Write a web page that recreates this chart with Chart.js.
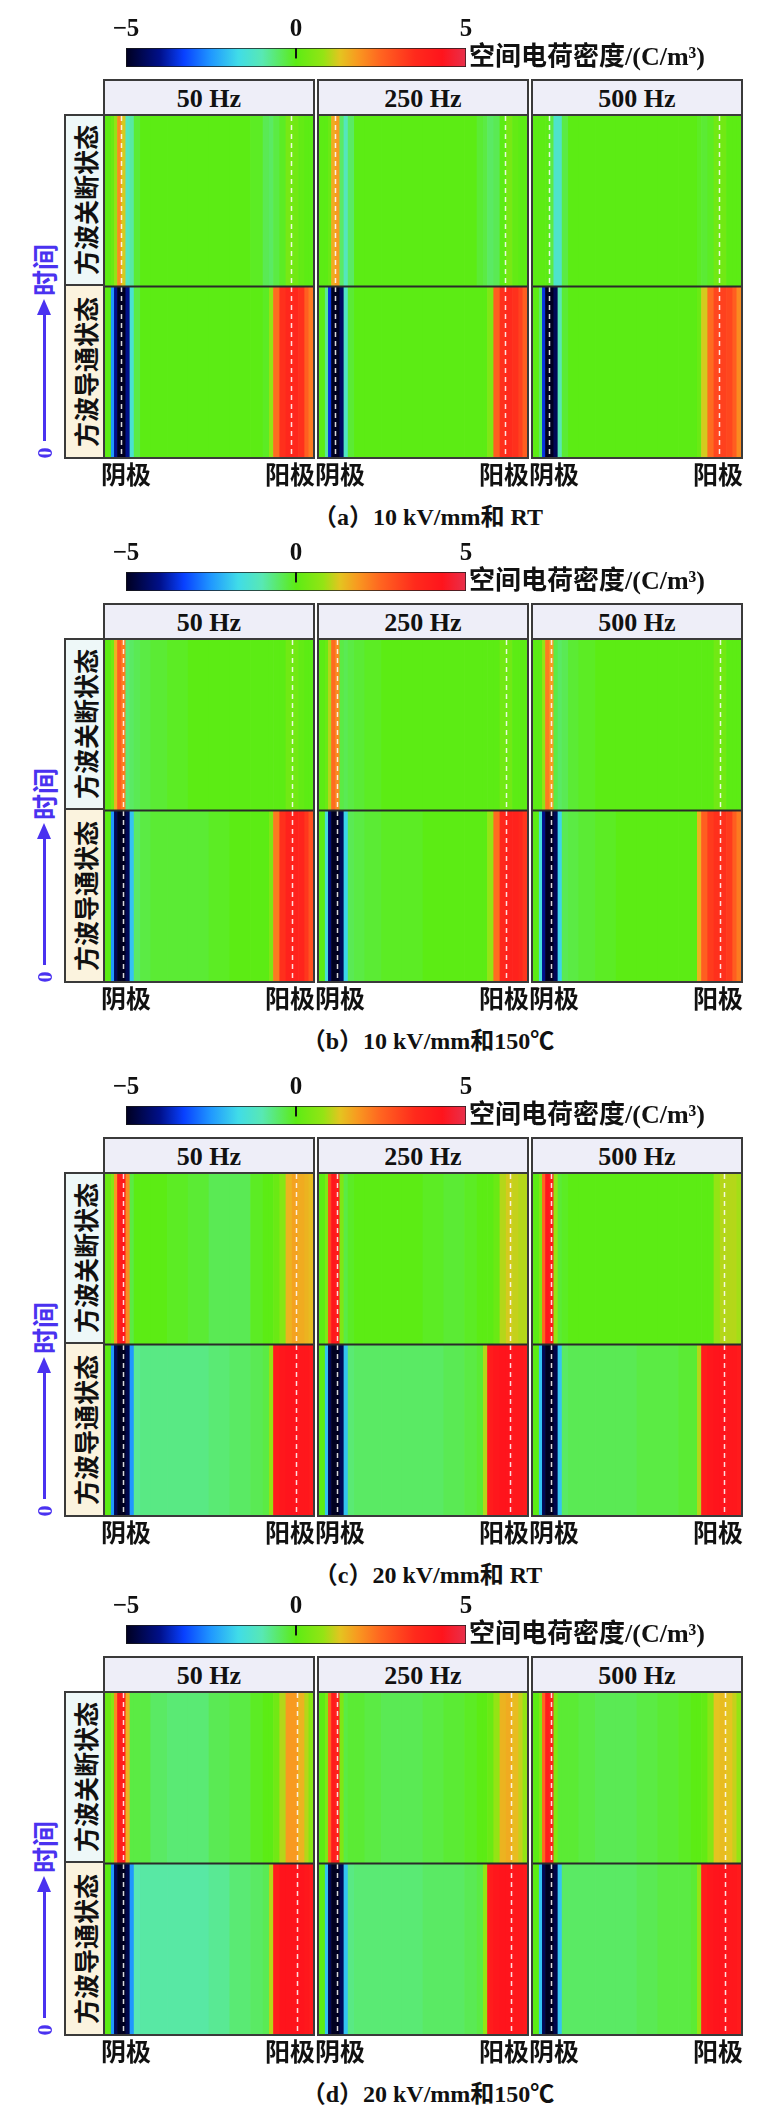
<!DOCTYPE html>
<html>
<head>
<meta charset="utf-8">
<script src="https://cdn.jsdelivr.net/npm/chart.js@4.4.1/dist/chart.umd.min.js"></script>
<style>
body { margin: 0; background: #fff; }
#page { position: relative; width: 778px; height: 2106px; overflow: hidden; font-family: "Liberation Serif", "Noto Sans CJK SC", serif; font-weight: bold; color: #111; }
.abs { position: absolute; white-space: nowrap; }
.group { position: absolute; width: 208px; border: 2px solid #3a3a3a; background: #fff; }
.head { height: 33px; border-bottom: 2px solid #3a3a3a; background: #eeeef8; text-align: center; line-height: 35px; font-size: 26px; }
.group canvas { display: block; }
.rowbox { position: absolute; width: 37px; border: 2px solid #3a3a3a; }
.rl { position: relative; overflow: hidden; font-family: "Noto Sans CJK SC", sans-serif; font-size: 25px; }
.rot { position: absolute; left: 50%; top: 50%; transform: translate(-50%, -50%) rotate(-90deg); white-space: nowrap; }
.cjk { font-family: "Noto Sans CJK SC", sans-serif; }
</style>
</head>
<body>
<div id="page"></div>
<script>
// position along the sample, cathode -> anode (% of width), segment edges
const posEdges = [0, 3, 4.5, 6, 8, 10, 12, 14, 17, 22, 30, 40, 50, 60, 70, 76, 79, 81, 84, 87, 90, 93, 96, 98, 100];
const freqLabels = ['50 Hz', '250 Hz', '500 Hz'];
const rowLabels = ['方波关断状态', '方波导通状态'];
const captions = ['（a）10 kV/mm和 RT', '（b）10 kV/mm和150℃', '（c）20 kV/mm和 RT', '（d）20 kV/mm和150℃'];
const cbarTicks = [-5, 0, 5];
const cbarTitle = '空间电荷密度/(C/m³)';
const cathodePos = [7.5, 8.5, 8.5, 8.5];
const anodePos = [89.5, 90, 92, 92.5];

// space charge density (C/m3) per segment
// (a) 10 kV/mm, RT
const a50Off  = [0, 0.2, 0.8, 2.0, 1.2, -1.1, -0.9, -0.2, 0, 0, 0, 0, 0, 0, -0.1, -0.4, -0.5, -0.3, -0.1, 0.4, 0.3, 0.1, 0, 0];
const a50On   = [0, -2.5, -4.0, -5, -5, -4.0, -1.4, -0.3, 0, 0, 0, 0, 0, 0, 0, -0.1, 0.8, 2.4, 3.4, 3.6, 3.6, 3.4, 2.6, 2.2];
const a250Off = [0, 0, 0.2, 1.6, 1.8, -0.5, -1.1, -0.5, 0, 0, 0, 0, 0, 0, 0, -0.2, -0.3, -0.5, -0.4, 0, 0.4, 0.1, 0, 0];
const a250On  = [0, -0.8, -3.5, -5, -5, -4.4, -1.2, -0.2, 0, 0, 0, 0, 0, 0, 0, 0, 0, 0.5, 2.6, 3.4, 3.5, 3.4, 3.1, 2.6];
const a500Off = [0, 0, 0, 0, -0.3, -1.3, -1.3, -0.3, 0, 0, 0, 0, 0, 0, 0, 0, -0.1, -0.2, -0.1, 0.3, 0.3, 0, 0, 0];
const a500On  = [0, -0.5, -3.5, -5, -5, -4.5, -1.0, -0.2, 0, 0, 0, 0, 0, 0, 0, 0, 0.2, 1.2, 2.4, 3.0, 3.1, 3.0, 2.6, 2.0];
// (b) 10 kV/mm, 150 C
const b50Off  = [0, 0.3, 1.5, 2.6, 2.2, -0.6, -0.5, -0.4, -0.3, -0.2, -0.1, 0, 0, 0, 0, 0, 0, 0, 0, 0.3, 0.3, 0.1, 0, 0];
const b50On   = [0, -2.5, -4.5, -5, -5, -4.5, -2.0, -0.5, -0.3, -0.2, -0.2, -0.2, -0.1, 0, 0, 0, 0.5, 2.2, 3.4, 3.8, 3.8, 3.7, 3.3, 2.8];
const b250Off = [0, 0.2, 1.0, 2.4, 2.0, -0.3, -0.4, -0.3, -0.2, -0.1, 0, 0, 0, 0, 0, 0, 0, 0, 0, 0.3, 0.3, 0, 0, 0];
const b250On  = [0, -1.5, -4.2, -5, -5, -4.5, -1.8, -0.4, -0.3, -0.2, -0.1, -0.1, 0, 0, 0, 0, 0, 0.8, 2.4, 3.6, 3.8, 3.8, 3.6, 3.3];
const b500Off = [0, 0, 0.8, 2.2, 1.8, -0.3, -0.5, -0.4, -0.2, -0.1, 0, 0, 0, 0, 0, 0, 0, 0, 0, 0.3, 0.3, 0, 0, 0];
const b500On  = [0, -1.5, -4.0, -5, -5, -4.5, -1.8, -0.4, -0.3, -0.2, -0.1, 0, 0, 0, 0, 0, 1.5, 2.6, 3.2, 3.4, 3.4, 3.2, 2.6, 2.2];
// (c) 20 kV/mm, RT
const c50Off  = [0.2, 0.6, 1.8, 4.0, 4.2, 2.0, -0.3, 0, 0, 0, -0.1, -0.2, -0.4, -0.4, -0.1, 0, 0, 0.2, 0.6, 1.5, 1.7, 1.6, 1.5, 1.4];
const c50On   = [0, -2.5, -4.5, -5, -5, -4.6, -2.5, -0.8, -0.7, -0.7, -0.7, -0.7, -0.6, -0.5, -0.4, -0.3, 0.8, 4.0, 4.2, 4.3, 4.3, 4.2, 4.2, 4.1];
const c250Off = [0, 0.5, 3.0, 4.2, 4.0, 0.5, -0.3, -0.1, 0, 0, 0, 0, -0.1, -0.2, -0.1, 0, 0, 0, 0.2, 1.0, 1.2, 1.1, 1.0, 1.0];
const c250On  = [0, -2.0, -4.5, -5, -5, -4.5, -2.0, -0.6, -0.5, -0.5, -0.5, -0.5, -0.5, -0.4, -0.3, -0.2, 1.0, 4.0, 4.2, 4.3, 4.3, 4.2, 4.2, 4.1];
const c500Off = [0, 0.5, 2.5, 4.2, 4.0, 0.8, -0.2, -0.1, 0, 0, 0, 0, 0, 0, 0, 0, 0, 0, 0, 0.8, 1.0, 1.0, 1.0, 0.9];
const c500On  = [0, -2.0, -4.5, -5, -5, -4.6, -2.0, -0.5, -0.4, -0.4, -0.4, -0.4, -0.3, -0.3, -0.2, -0.2, 1.0, 4.0, 4.2, 4.3, 4.3, 4.2, 4.2, 4.1];
// (d) 20 kV/mm, 150 C
const d50Off  = [0.2, 0.6, 2.0, 4.0, 4.0, 1.5, -0.3, -0.3, -0.3, -0.5, -0.6, -0.6, -0.4, -0.3, -0.1, 0, 0, 0.3, 1.0, 1.8, 1.8, 1.5, 1.0, 0.6];
const d50On   = [0, -2.5, -4.5, -5, -5, -4.6, -2.5, -1.0, -0.9, -0.9, -0.9, -0.9, -0.8, -0.6, -0.5, -0.4, 1.0, 4.0, 4.3, 4.3, 4.3, 4.3, 4.2, 4.1];
const d250Off = [0, 0.5, 2.5, 4.0, 3.8, 0.5, -0.3, -0.2, -0.2, -0.3, -0.4, -0.4, -0.3, -0.2, -0.1, 0, 0, 0.2, 0.8, 1.5, 1.6, 1.4, 1.1, 0.8];
const d250On  = [0, -2.0, -4.5, -5, -5, -4.5, -2.0, -0.7, -0.6, -0.6, -0.6, -0.6, -0.5, -0.5, -0.4, -0.3, 0.8, 4.0, 4.2, 4.3, 4.3, 4.2, 4.2, 4.1];
const d500Off = [0, 0.5, 2.5, 4.0, 3.8, 0.5, -0.2, -0.2, -0.2, -0.3, -0.4, -0.4, -0.3, -0.2, -0.1, 0, 0, 0.1, 0.6, 1.3, 1.4, 1.3, 1.1, 0.8];
const d500On  = [0, -2.0, -4.5, -5, -5, -4.6, -2.0, -0.5, -0.5, -0.5, -0.5, -0.5, -0.4, -0.3, -0.3, -0.2, 0.8, 4.0, 4.2, 4.3, 4.3, 4.2, 4.2, 4.1];

const panelData = [
    [[a50Off, a50On], [a250Off, a250On], [a500Off, a500On]],
    [[b50Off, b50On], [b250Off, b250On], [b500Off, b500On]],
    [[c50Off, c50On], [c250Off, c250On], [c500Off, c500On]],
    [[d50Off, d50On], [d250Off, d250On], [d500Off, d500On]]
];

// layout
const panelTops = [79, 603, 1137, 1656];
const colLefts = [105, 319, 533];
const colW = 208;
const heatH = 341;
const timeBlue = '#4a32f0';

// jet-like colour map used in the figure
const cmapStops = [
    [-5, '#000020'], [-4, '#00108a'], [-3.3, '#0840ff'], [-2.5, '#2098ff'], [-1.7, '#40dce8'],
    [-1, '#58e8b4'], [0, '#5cec14'], [0.8, '#94e414'], [1.3, '#e4c420'], [1.8, '#f89a20'],
    [2.5, '#ff6420'], [3.5, '#ff2a1c'], [4.3, '#ff141c'], [5, '#e8304c']
];

function hexToRgb(h) {
    return [parseInt(h.slice(1, 3), 16), parseInt(h.slice(3, 5), 16), parseInt(h.slice(5, 7), 16)];
}

function cmap(v) {
    v = Math.max(-5, Math.min(5, v));
    for (let i = 1; i < cmapStops.length; i++) {
        const [v1, c1] = cmapStops[i];
        if (v <= v1) {
            const [v0, c0] = cmapStops[i - 1];
            const t = (v - v0) / (v1 - v0);
            const a = hexToRgb(c0), b = hexToRgb(c1);
            const rgb = a.map((x, k) => Math.round(x + (b[k] - x) * t));
            return 'rgb(' + rgb.join(',') + ')';
        }
    }
    return cmapStops[cmapStops.length - 1][1];
}

const page = document.getElementById('page');

function addEl(tag, cls, css, text) {
    const e = document.createElement(tag);
    if (cls) e.className = cls;
    if (css) e.style.cssText = css;
    if (text !== undefined) e.textContent = text;
    page.appendChild(e);
    return e;
}

const electrodePlugin = {
    id: 'electrodes',
    afterDatasetsDraw(chart, args, opts) {
        const { ctx, chartArea: a, scales: { x, y } } = chart;
        ctx.save();
        ctx.strokeStyle = 'rgba(255,255,255,0.85)';
        ctx.lineWidth = 1.5;
        ctx.setLineDash([5, 4]);
        opts.pos.forEach(p => {
            const px = Math.round(x.getPixelForValue(p)) + 0.5;
            ctx.beginPath();
            ctx.moveTo(px, a.top);
            ctx.lineTo(px, a.bottom);
            ctx.stroke();
        });
        ctx.setLineDash([]);
        const mid = (y.getPixelForValue(0) + y.getPixelForValue(1)) / 2;
        ctx.strokeStyle = '#2a2a2a';
        ctx.lineWidth = 2;
        ctx.beginPath();
        ctx.moveTo(a.left, mid);
        ctx.lineTo(a.right, mid);
        ctx.stroke();
        ctx.restore();
    }
};

function heatChart(canvas, offVals, onVals, elec) {
    const rowSet = (vals, row) => ({
        data: vals.map((v, i) => ({ x: [posEdges[i], posEdges[i + 1]], y: row })),
        backgroundColor: vals.map(cmap),
        borderWidth: 0,
        grouped: false,
        barPercentage: 1,
        categoryPercentage: 1
    });
    return new Chart(canvas, {
        type: 'bar',
        data: { labels: rowLabels, datasets: [rowSet(offVals, rowLabels[0]), rowSet(onVals, rowLabels[1])] },
        options: {
            indexAxis: 'y',
            responsive: false,
            animation: false,
            events: [],
            layout: { padding: 0 },
            plugins: { legend: { display: false }, tooltip: { enabled: false }, electrodes: { pos: elec } },
            scales: {
                x: { type: 'linear', min: 0, max: 100, display: false },
                y: { type: 'category', display: false }
            }
        },
        plugins: [electrodePlugin]
    });
}

function cbarGradient(chart) {
    const a = chart.chartArea;
    if (!a) return '#888';
    const g = chart.ctx.createLinearGradient(a.left, 0, a.right, 0);
    cmapStops.forEach(([v, c]) => g.addColorStop((v + 5) / 10, c));
    return g;
}

const zeroTickPlugin = {
    id: 'zeroTick',
    afterDatasetsDraw(chart) {
        const { ctx, chartArea: a, scales: { x } } = chart;
        const px = Math.round(x.getPixelForValue(0));
        ctx.save();
        ctx.fillStyle = '#111';
        ctx.fillRect(px - 1, a.top, 2, (a.bottom - a.top) * 0.55);
        ctx.restore();
    }
};

function colorbarChart(canvas) {
    return new Chart(canvas, {
        type: 'bar',
        data: {
            labels: ['cb'],
            datasets: [{
                data: [{ x: [cbarTicks[0], cbarTicks[cbarTicks.length - 1]], y: 'cb' }],
                backgroundColor: ctx => cbarGradient(ctx.chart),
                borderWidth: 1,
                borderColor: '#1a1a1a',
                borderSkipped: false,
                barPercentage: 1,
                categoryPercentage: 1
            }]
        },
        options: {
            indexAxis: 'y',
            responsive: false,
            animation: false,
            events: [],
            layout: { padding: { left: 30, right: 30, top: 0, bottom: 2 } },
            plugins: { legend: { display: false }, tooltip: { enabled: false } },
            scales: {
                x: {
                    type: 'linear', position: 'top', min: -5, max: 5,
                    afterBuildTicks: s => { s.ticks = cbarTicks.map(v => ({ value: v })); },
                    afterFit: s => { s.height = 35; },
                    grid: { display: false, drawTicks: false },
                    border: { display: false },
                    ticks: {
                        padding: 3, color: '#111',
                        font: { family: 'Liberation Serif', size: 25, weight: 'bold' },
                        callback: v => v < 0 ? '\u2212' + Math.abs(v) : String(v)
                    }
                },
                y: { display: false }
            }
        },
        plugins: [zeroTickPlugin]
    });
}

panelTops.forEach((T, p) => {
    // colour bar
    const cb = addEl('canvas', 'abs', `left:96px;top:${T - 66}px;`);
    cb.width = 400; cb.height = 56;
    colorbarChart(cb);
    addEl('div', 'abs', `left:469px;top:${T - 37}px;font-size:26px;line-height:30px;`, cbarTitle);

    // row labels
    const rb = addEl('div', 'rowbox', `left:64px;top:${T + 35}px;`);
    const r1 = document.createElement('div');
    r1.className = 'rl';
    r1.style.cssText = 'height:168px;border-bottom:2px solid #3a3a3a;background:#eef8f8;';
    r1.innerHTML = `<span class="rot">${rowLabels[0]}</span>`;
    const r2 = document.createElement('div');
    r2.className = 'rl';
    r2.style.cssText = 'height:171px;background:#fbf3de;';
    r2.innerHTML = `<span class="rot">${rowLabels[1]}</span>`;
    rb.appendChild(r1); rb.appendChild(r2);

    // heatmaps
    colLefts.forEach((L, c) => {
        const g = addEl('div', 'group', `left:${L - 2}px;top:${T}px;`);
        const h = document.createElement('div');
        h.className = 'head';
        h.textContent = freqLabels[c];
        g.appendChild(h);
        const cv = document.createElement('canvas');
        cv.width = colW; cv.height = heatH;
        g.appendChild(cv);
        heatChart(cv, panelData[p][c][0], panelData[p][c][1], [cathodePos[p], anodePos[p]]);

        addEl('div', 'abs cjk', `left:${L - 4}px;top:${T + 380}px;font-size:25px;line-height:28px;`, '阴极');
        addEl('div', 'abs cjk', `left:${L + 150}px;width:60px;text-align:right;top:${T + 380}px;font-size:25px;line-height:28px;`, '阳极');
    });

    // time axis
    addEl('div', 'abs cjk', `left:44px;top:${T + 191}px;transform:translate(-50%,-50%) rotate(-90deg);color:${timeBlue};font-size:26px;line-height:30px;`, '时间');
    addEl('div', 'abs', `left:43px;top:${T + 234}px;width:3px;height:128px;background:${timeBlue};`);
    addEl('div', 'abs', `left:37px;top:${T + 220}px;width:0;height:0;border-left:7px solid transparent;border-right:7px solid transparent;border-bottom:16px solid ${timeBlue};`);
    addEl('div', 'abs', `left:45px;top:${T + 374}px;transform:translate(-50%,-50%) rotate(-90deg);color:${timeBlue};font-size:22px;line-height:24px;`, '0');

    // caption
    addEl('div', 'abs', `left:228px;width:400px;text-align:center;top:${T + 424}px;font-size:24px;line-height:28px;`, captions[p]);
});
</script>
</body>
</html>
